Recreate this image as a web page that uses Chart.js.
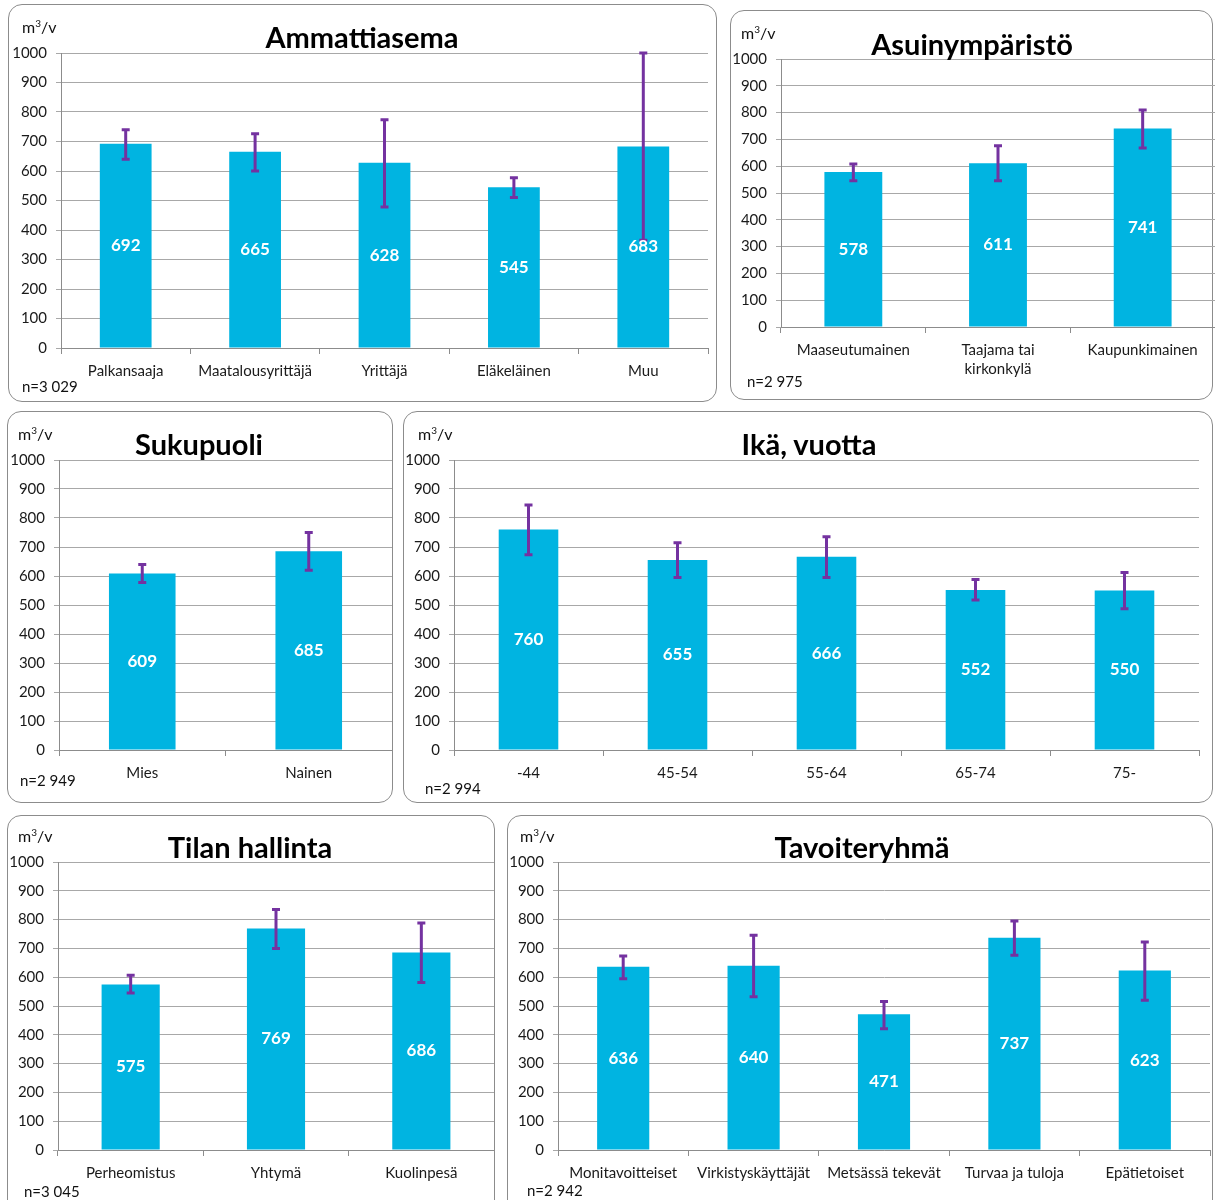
<!DOCTYPE html>
<html><head><meta charset="utf-8">
<script src="https://cdn.jsdelivr.net/npm/chart.js@4/dist/chart.umd.min.js"></script>
<style>
body{margin:0;width:1215px;height:1200px;position:relative;background:#fff;overflow:hidden;font-family:Lato,'Open Sans',sans-serif;}
.panel{position:absolute;border:1.5px solid #8c8c8c;border-radius:14px;box-sizing:border-box;background:#fff;}
canvas{position:absolute;}
.t{position:absolute;white-space:nowrap;color:#111;line-height:1;}
.title{font-weight:bold;font-size:29px;transform:translate(-50%,-50%);color:#000;}
.unit{font-size:16px;transform:translateY(-50%);}
.unit sup{font-size:10px;vertical-align:6px;line-height:0;}
.n{font-size:15px;transform:translateY(-50%);}
</style>
</head><body>
<script>
// ---- DATA ----
const ammattiCategories = ['Palkansaaja','Maatalousyrittäjä','Yrittäjä','Eläkeläinen','Muu'];
const ammattiValues = [692,665,628,545,683];
const ammattiLow = [640,600,478,510,365];
const ammattiHigh = [740,726,774,577,1000];

const asuinCategories = ['Maaseutumainen',['Taajama tai','kirkonkylä'],'Kaupunkimainen'];
const asuinValues = [578,611,741];
const asuinLow = [546,546,668];
const asuinHigh = [608,676,810];

const sukupuoliCategories = ['Mies','Nainen'];
const sukupuoliValues = [609,685];
const sukupuoliLow = [578,620];
const sukupuoliHigh = [640,750];

const ikaCategories = ['-44','45-54','55-64','65-74','75-'];
const ikaValues = [760,655,666,552,550];
const ikaLow = [673,595,595,517,487];
const ikaHigh = [845,715,735,588,612];

const tilaCategories = ['Perheomistus','Yhtymä','Kuolinpesä'];
const tilaValues = [575,769,686];
const tilaLow = [545,700,582];
const tilaHigh = [607,835,788];

const tavoiteCategories = ['Monitavoitteiset','Virkistyskäyttäjät','Metsässä tekevät','Turvaa ja tuloja','Epätietoiset'];
const tavoiteValues = [636,640,471,737,623];
const tavoiteLow = [595,532,421,676,520];
const tavoiteHigh = [674,746,516,795,722];

const yTicks = {min:0, max:1000, step:100};

// ---- LAYOUT ----
const charts = [
  {title:'Ammattiasema', n:'n=3 029', cats:ammattiCategories, vals:ammattiValues, lo:ammattiLow, hi:ammattiHigh,
   panel:[8,4,709,398], plot:[61,53,708,348], titlePos:[362,36], unitPos:[22,27], nPos:[22,386], xh:32},
  {title:'Asuinympäristö', n:'n=2 975', cats:asuinCategories, vals:asuinValues, lo:asuinLow, hi:asuinHigh,
   panel:[730,10,483,390], plot:[781,59,1215,327], titlePos:[972,43], unitPos:[741,33], nPos:[747,381], xh:52},
  {title:'Sukupuoli', n:'n=2 949', cats:sukupuoliCategories, vals:sukupuoliValues, lo:sukupuoliLow, hi:sukupuoliHigh,
   panel:[7,411,386,392], plot:[59,460,392,750], titlePos:[199,443], unitPos:[18,434], nPos:[20,780], xh:32},
  {title:'Ikä, vuotta', n:'n=2 994', cats:ikaCategories, vals:ikaValues, lo:ikaLow, hi:ikaHigh,
   panel:[403,411,810,392], plot:[454,460,1199,750], titlePos:[809,443], unitPos:[418,434], nPos:[425,788], xh:32},
  {title:'Tilan hallinta', n:'n=3 045', cats:tilaCategories, vals:tilaValues, lo:tilaLow, hi:tilaHigh,
   panel:[7,815,488,410], plot:[58,862,494,1150], titlePos:[250,846], unitPos:[18,836], nPos:[24,1191], xh:32},
  {title:'Tavoiteryhmä', n:'n=2 942', cats:tavoiteCategories, vals:tavoiteValues, lo:tavoiteLow, hi:tavoiteHigh,
   panel:[507,815,706,410], plot:[558,862,1210,1150], titlePos:[862,846], unitPos:[520,836], nPos:[527,1190], xh:32}
];

Chart.defaults.font.family = 'Lato';

const errorBarPlugin = {
  id:'errorBars',
  afterDatasetsDraw(chart, args, opts){
    const ctx = chart.ctx, y = chart.scales.y;
    const meta = chart.getDatasetMeta(0);
    ctx.save();
    ctx.strokeStyle = '#7432a0';
    ctx.lineWidth = 3;
    ctx.lineCap = 'butt';
    meta.data.forEach((bar,i)=>{
      const x = bar.x;
      const yt = y.getPixelForValue(opts.hi[i]);
      const yb = y.getPixelForValue(opts.lo[i]);
      ctx.beginPath();
      ctx.moveTo(x,yt); ctx.lineTo(x,yb);
      ctx.moveTo(x-4,yt); ctx.lineTo(x+4,yt);
      ctx.moveTo(x-4,yb); ctx.lineTo(x+4,yb);
      ctx.stroke();
    });
    ctx.restore();
  }
};
const valueLabelPlugin = {
  id:'valueLabels',
  afterDatasetsDraw(chart){
    const ctx = chart.ctx;
    const meta = chart.getDatasetMeta(0);
    const data = chart.data.datasets[0].data;
    ctx.save();
    ctx.fillStyle = '#fff';
    ctx.font = 'bold 17px Lato';
    ctx.textAlign = 'center';
    ctx.textBaseline = 'middle';
    meta.data.forEach((bar,i)=>{
      ctx.fillText(String(data[i]), bar.x, (bar.y+bar.base)/2);
    });
    ctx.restore();
  }
};

function addText(cls, html, pos){
  const d = document.createElement('div');
  d.className = 't '+cls;
  d.innerHTML = html;
  d.style.left = pos[0]+'px';
  d.style.top = pos[1]+'px';
  document.body.appendChild(d);
}

charts.forEach(c=>{
  const p = document.createElement('div');
  p.className = 'panel';
  p.style.left = c.panel[0]+'px'; p.style.top = c.panel[1]+'px';
  p.style.width = c.panel[2]+'px'; p.style.height = c.panel[3]+'px';
  document.body.appendChild(p);
});

charts.forEach(c=>{
  const yW = 52, padT = 12, padR = 2, topOff = 18;
  const [L,T,R,B] = c.plot;
  const cv = document.createElement('canvas');
  const w = R - L + yW + padR, h = B - T + topOff + c.xh;
  cv.width = w; cv.height = h;
  cv.style.left = (L - yW)+'px'; cv.style.top = (T - topOff)+'px';
  cv.style.width = w+'px'; cv.style.height = h+'px';
  document.body.appendChild(cv);
  new Chart(cv.getContext('2d'), {
    type:'bar',
    data:{labels:c.cats, datasets:[{data:c.vals, backgroundColor:'#00b4e1', borderWidth:0, barPercentage:0.4, categoryPercentage:1}]},
    options:{
      responsive:false, animation:false, devicePixelRatio:1,
      layout:{padding:{top:padT,right:padR,left:0,bottom:0}},
      plugins:{legend:{display:false}, tooltip:{enabled:false}, title:{display:false},
        errorBars:{lo:c.lo, hi:c.hi}},
      scales:{
        x:{
          grid:{display:true, drawOnChartArea:false, drawTicks:true, tickLength:6, color:'#8c8c8c'},
          border:{display:true, color:'#8c8c8c'},
          ticks:{color:'#1a1a1a', font:{size:15, lineHeight:1.3}, padding:7, maxRotation:0, autoSkip:false},
          afterFit:s=>{s.height = c.xh;}
        },
        y:{
          min:yTicks.min, max:yTicks.max,
          ticks:{stepSize:yTicks.step, color:'#1a1a1a', font:{size:15}, padding:9, callback:v=>String(v)},
          grid:{color:'#a8a8a8', tickLength:5},
          border:{display:true, color:'#8c8c8c'},
          afterFit:s=>{s.width = yW;}
        }
      }
    },
    plugins:[errorBarPlugin, valueLabelPlugin]
  });
  addText('title', c.title, c.titlePos);
  addText('unit', 'm<sup>3</sup>/v', c.unitPos);
  addText('n', c.n, c.nPos);
});
</script>
</body></html>
